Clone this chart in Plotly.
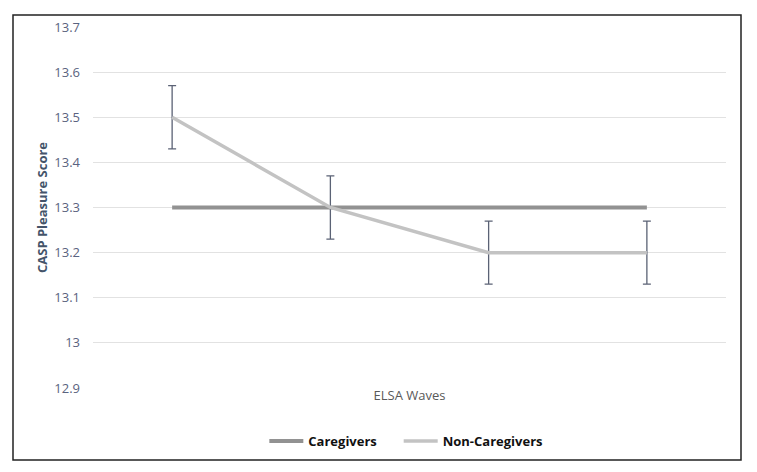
import plotly.graph_objects as go

waves = [1, 2, 3, 4]
caregivers = [13.3, 13.3, 13.3, 13.3]
non_caregivers = [13.5, 13.3, 13.2, 13.2]
non_caregivers_err = [0.07, 0.07, 0.07, 0.07]
y_ticks = [12.9, 13.0, 13.1, 13.2, 13.3, 13.4, 13.5, 13.6, 13.7]
series_names = ["Caregivers", "Non-Caregivers"]

fig = go.Figure()
fig.add_trace(go.Scatter(
    x=waves, y=caregivers, mode="lines", name=series_names[0] + "\u00a0" * 5,
    line=dict(color="#929292", width=4)))
fig.add_trace(go.Scatter(
    x=waves, y=non_caregivers, mode="lines", name=series_names[1],
    line=dict(color="#c3c3c3", width=3.5),
    error_y=dict(type="data", array=non_caregivers_err, color="#5b6275",
                 thickness=1.3, width=4)))

L, R, T, B = 93, 31, 27, 84
W, H = 757, 472
pw, ph = W - L - R, H - T - B

fig.update_layout(
    width=W, height=H,
    margin=dict(l=L, r=R, t=T, b=B),
    paper_bgcolor="white", plot_bgcolor="white",
    font=dict(family="Open Sans, Liberation Sans, sans-serif", color="#595959"),
    showlegend=True,
    legend=dict(orientation="h", x=0.495, xanchor="center", y=(388 - 441) / ph, yanchor="middle",
                font=dict(size=13, color="#111111", family="Open Sans, sans-serif", weight="bold"),
                itemwidth=34, tracegroupgap=0),
    xaxis=dict(range=[0.5, 4.5], showticklabels=False, showgrid=False, zeroline=False,
               showline=False, ticks="",
               title=dict(text="ELSA Waves", standoff=2,
                          font=dict(size=13, color="#595959"))),
    yaxis=dict(range=[12.9, 13.7], tickvals=y_ticks, showgrid=True, gridcolor="#e2e2e2",
               gridwidth=1, zeroline=False, showline=False, ticks="",
               tickfont=dict(size=13, color="#5a6380"), ticklabelstandoff=12,
               title=dict(text="CASP Pleasure Score", standoff=3,
                          font=dict(size=13, color="#44546a", weight="bold"))),
    shapes=[dict(type="rect", xref="paper", yref="paper",
                 x0=(13 - L) / pw, x1=(741 - L) / pw,
                 y0=(388 - 460) / ph, y1=(388 - 15) / ph,
                 line=dict(color="#222222", width=1.5), fillcolor="rgba(0,0,0,0)",
                 layer="below")],
)

fig.write_html("out.html", config={"displayModeBar": False},
               post_script="document.body.style.margin='0';")
